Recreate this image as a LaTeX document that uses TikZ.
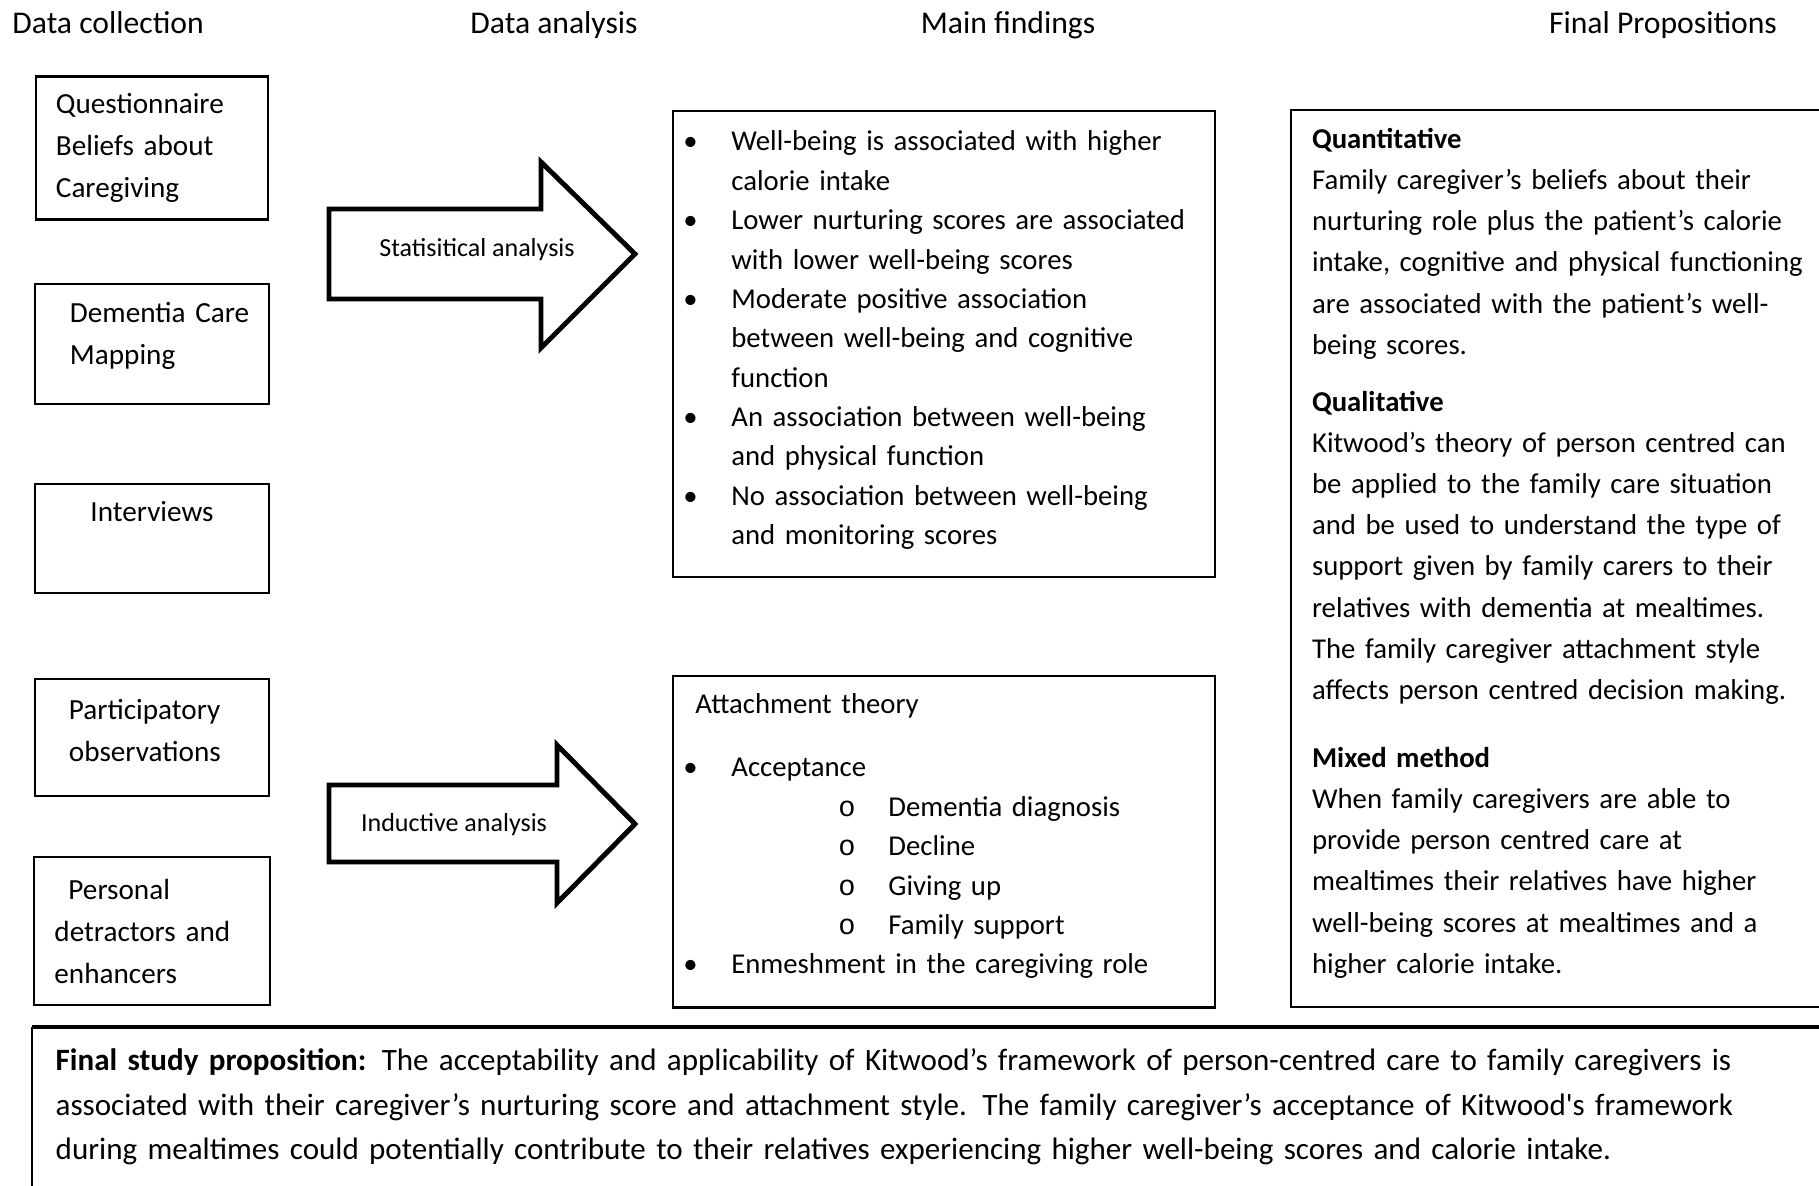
\documentclass[tikz,border=0pt]{standalone}
\usepackage{fontspec}
\setmainfont{Carlito}
\newfontfamily\courfont{Liberation Mono}
\usetikzlibrary{positioning}

\newcommand{\bul}{\makebox[0.48cm][l]{\textbullet}}
\newcommand{\bulcont}{\hspace*{0.48cm}}
\newcommand{\circitem}{\hspace*{1.55cm}\makebox[0.5cm][l]{\courfont o}}

\begin{document}
\begin{tikzpicture}[x=0.01cm, y=-0.01cm,
    heading/.style={anchor=base, font=\fontsize{9}{11}\selectfont},
    source/.style={draw, rectangle, line width=0.6pt, align=left, inner ysep=0pt,
                   font=\fontsize{8.3}{11.9}\selectfont},
    findings/.style={draw, rectangle, line width=0.6pt, align=left, minimum width=5.41cm,
                     text width=5.21cm, inner xsep=0.1cm, font=\fontsize{8.17}{11.2}\selectfont},
    props/.style={draw, rectangle, line width=0.6pt, align=left, anchor=north west,
                  minimum height=8.96cm, text width=5.4cm, inner xsep=0.21cm,
                  font=\fontsize{8.17}{11.7}\selectfont},
    blockarrow/.style={draw, line width=1.4pt, line join=miter},
    arrowtext/.style={font=\fontsize{7.4}{9}\selectfont}]
    \path[use as bounding box, fill=white] (0,0) rectangle (1819,1186);

    % column headings
    \node[heading, anchor=base west] (tcoll) at (0,34) {Data collection};
    \node[heading] (tanal) at (554,34) {Data analysis};
    \node[heading] (tfind) at (1008,34) {Main findings};
    \node[heading] (tprop) at (1663,34) {Final Propositions};

    % data collection
    \node[source, text width=1.92cm, inner xsep=0.2cm, minimum height=1.43cm] (quest) at (152,148)
        {Questionnaire\\Beliefs about\\Caregiving};
    \node[source, below=0.62cm of quest, text width=1.64cm, inner xsep=0.35cm,
          minimum height=1.2cm] (dcm) {Dementia~Care\\Mapping\\[-0.22cm]\mbox{}};
    \node[source, below=0.78cm of dcm, text width=2.33cm, inner xsep=0pt, align=center,
          minimum height=1.09cm] (interv) {Interviews\\[0.12cm]\mbox{}};
    \node[source, below=0.84cm of interv, text width=1.66cm, inner xsep=0.34cm,
          minimum height=1.17cm] (partobs) {Participatory\\observations\\[-0.28cm]\mbox{}};
    \node[source, below=0.59cm of partobs, text width=1.95cm, inner xsep=0.2cm,
          minimum height=1.48cm] (persdet) {\hspace*{0.14cm}Personal\\detractors and\\enhancers};

    % data analysis
    \draw[blockarrow] (329,209) -- (541,209) -- (541,162) -- (635,254) -- (541,348)
        -- (541,299) -- (329,299) -- cycle;
    \node[arrowtext] (stat) at (477,250) {Statisitical analysis};
    \draw[blockarrow] (329,785) -- (557,785) -- (557,745) -- (635,824) -- (557,903)
        -- (557,862) -- (329,862) -- cycle;
    \node[arrowtext] (induc) at (454,825) {Inductive analysis};

    % main findings
    \node[findings, minimum height=4.66cm] (quant) at (944,344) {%
        \bul Well-being is associated with higher\\
        \bulcont calorie intake\\
        \bul Lower nurturing scores are associated\\
        \bulcont with lower well-being scores\\
        \bul Moderate positive association\\
        \bulcont between well-being and cognitive\\
        \bulcont function\\
        \bul An association between well-being\\
        \bulcont and physical function\\
        \bul No association between well-being\\
        \bulcont and monitoring scores\\[-0.27cm]\mbox{}};
    \node[findings, below=0.97cm of quant, minimum height=3.31cm] (attach) {%
        \hspace*{0.12cm}Attachment theory\\[0.24cm]
        \bul Acceptance\\
        \circitem Dementia diagnosis\\
        \circitem Decline\\
        \circitem Giving up\\
        \circitem Family support\\
        \bul Enmeshment in the caregiving role\\[-0.23cm]\mbox{}};

    % final propositions
    \node[props] (final) at (1290,109) {%
        \textbf{Quantitative}\\
        Family caregiver’s beliefs about their\\
        nurturing role plus the patient’s calorie\\
        intake, cognitive and physical functioning\\
        are associated with the patient’s well-\\
        being scores.\\[0.16cm]
        \textbf{Qualitative}\\
        Kitwood’s theory of person centred can\\
        be applied to the family care situation\\
        and be used to understand the type of\\
        support given by family carers to their\\
        relatives with dementia at mealtimes.\\
        The family caregiver attachment style\\
        affects person centred decision making.\\[0.27cm]
        \textbf{Mixed method}\\
        When family caregivers are able to\\
        provide person centred care at\\
        mealtimes their relatives have higher\\
        well-being scores at mealtimes and a\\
        higher calorie intake.\\[-0.26cm]\mbox{}};

    % final study proposition
    \node[anchor=north west, align=left, text width=18cm, inner xsep=0.23cm, inner ysep=0.21cm,
          font=\fontsize{8.83}{12.7}\selectfont] (study) at (32,1027) {%
        \textbf{Final study proposition:} The acceptability and applicability of Kitwood’s framework of person-centred care to family caregivers is\\
        associated with their caregiver’s nurturing score and attachment style. The family caregiver’s acceptance of Kitwood\textquotesingle s framework\\
        during mealtimes could potentially contribute to their relatives experiencing higher well-being scores and calorie intake.};
    \coordinate (studyfoot) at (32,1200);
    \draw[line width=1.2pt] (study.north west) -- (study.north east);
    \draw[line width=0.6pt] (study.north west) -- (studyfoot);
\end{tikzpicture}
\end{document}
